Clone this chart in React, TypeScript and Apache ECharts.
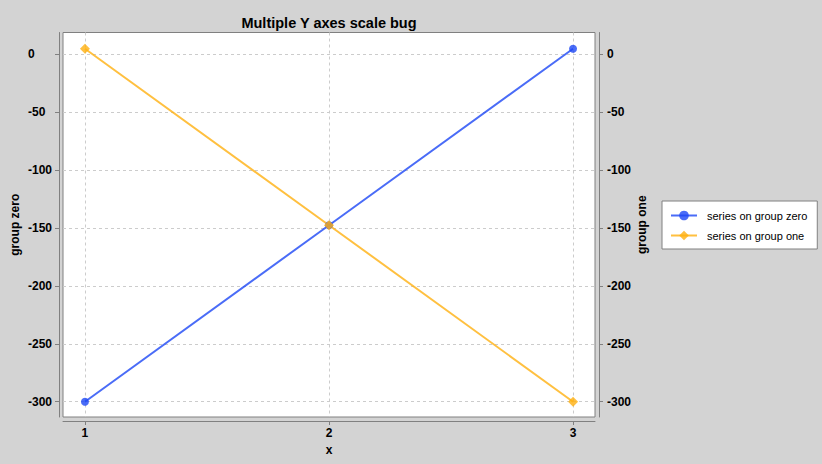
import React, { useRef, useEffect } from 'react';
import * as echarts from 'echarts';

const xValues = [1, 2, 3];
const groupZeroValues = [-300, -147.5, 5];
const groupOneValues = [5, -147.5, -300];
const seriesNames = ['series on group zero', 'series on group one'];

const FONT = '"Liberation Sans", Arial, sans-serif';

const App = () => {
    const chartRef = useRef(null);

    useEffect(() => {
        document.body.style.margin = '0';
        const myChart = echarts.init(chartRef.current, null, { renderer: 'svg' });

        const axisLine = { show: true, onZero: false, lineStyle: { color: '#808080', width: 1 } };
        const axisTick = { show: true, length: 4, inside: false, lineStyle: { color: '#808080' } };
        const labelStyle = { color: '#000', fontFamily: FONT, fontSize: 12, fontWeight: 'bold' };
        const nameStyle = { color: '#000', fontFamily: FONT, fontSize: 12, fontWeight: 'bold' };
        const gridLine = { show: true, showMinLine: false, showMaxLine: false, lineStyle: { color: '#cccccc', type: [3, 3], width: 1 } };

        const option = {
            animation: false,
            backgroundColor: '#d3d3d3',
            textStyle: { fontFamily: FONT },
            title: {
                text: 'Multiple Y axes scale bug',
                left: 329,
                top: 15,
                padding: 0,
                textAlign: 'center',
                textStyle: { fontFamily: FONT, fontSize: 14.5, fontWeight: 'bold', color: '#000' }
            },
            legend: {
                orient: 'vertical',
                left: 662,
                top: 201,
                padding: [9, 10, 8, 8],
                itemGap: 9,
                itemWidth: 26,
                itemHeight: 12,
                backgroundColor: '#fff',
                borderColor: '#808080',
                borderWidth: 1,
                borderRadius: 0,
                data: seriesNames,
                textStyle: { fontFamily: FONT, fontSize: 11, color: '#000', padding: [0, 0, 0, 5] }
            },
            grid: {
                left: 63,
                top: 32.5,
                right: 227,
                bottom: 47,
                containLabel: false,
                outerBoundsMode: 'none',
                show: true,
                backgroundColor: '#fff',
                borderColor: '#808080',
                borderWidth: 1
            },
            xAxis: {
                type: 'value',
                name: 'x',
                nameLocation: 'middle',
                nameGap: 23,
                nameMoveOverlap: false,
                nameTextStyle: nameStyle,
                min: 0.91,
                max: 3.09,
                splitNumber: 2,
                offset: 4,
                axisLine,
                axisTick,
                axisLabel: { ...labelStyle, margin: 6, showMinLabel: false, showMaxLabel: false },
                splitLine: gridLine
            },
            yAxis: [
                {
                    type: 'value',
                    name: 'group zero',
                    nameLocation: 'middle',
                    nameGap: 38,
                    nameMoveOverlap: false,
                    nameTextStyle: nameStyle,
                    position: 'left',
                    min: -313.2,
                    max: 19,
                    splitNumber: 7,
                    offset: 4,
                    axisLine,
                    axisTick,
                    axisLabel: { ...labelStyle, margin: 31, align: 'left', showMinLabel: false, showMaxLabel: false },
                    splitLine: gridLine
                },
                {
                    type: 'value',
                    name: 'group one',
                    nameLocation: 'middle',
                    nameGap: 37,
                    nameMoveOverlap: false,
                    nameTextStyle: nameStyle,
                    position: 'right',
                    min: -313.2,
                    max: 19,
                    splitNumber: 7,
                    offset: 4,
                    axisLine,
                    axisTick,
                    axisLabel: { ...labelStyle, margin: 8, showMinLabel: false, showMaxLabel: false },
                    splitLine: { show: false }
                }
            ],
            series: [
                {
                    name: seriesNames[0],
                    type: 'line',
                    yAxisIndex: 0,
                    data: xValues.map((x, i) => [x, groupZeroValues[i]]),
                    symbol: 'circle',
                    symbolSize: 8,
                    color: '#1d47f5',
                    lineStyle: { width: 2, opacity: 0.8 },
                    itemStyle: { opacity: 0.8 }
                },
                {
                    name: seriesNames[1],
                    type: 'line',
                    yAxisIndex: 1,
                    data: xValues.map((x, i) => [x, groupOneValues[i]]),
                    symbol: 'diamond',
                    symbolSize: 10,
                    color: '#ffb010',
                    lineStyle: { width: 2, opacity: 0.8 },
                    itemStyle: { opacity: 0.8 }
                }
            ]
        };

        myChart.setOption(option);

        return () => {
            myChart.dispose();
        };
    }, []);

    return (
        <div
            ref={chartRef}
            style={{
                width: '822px',
                height: '464px'
            }}
        />
    );
};

export default App;
